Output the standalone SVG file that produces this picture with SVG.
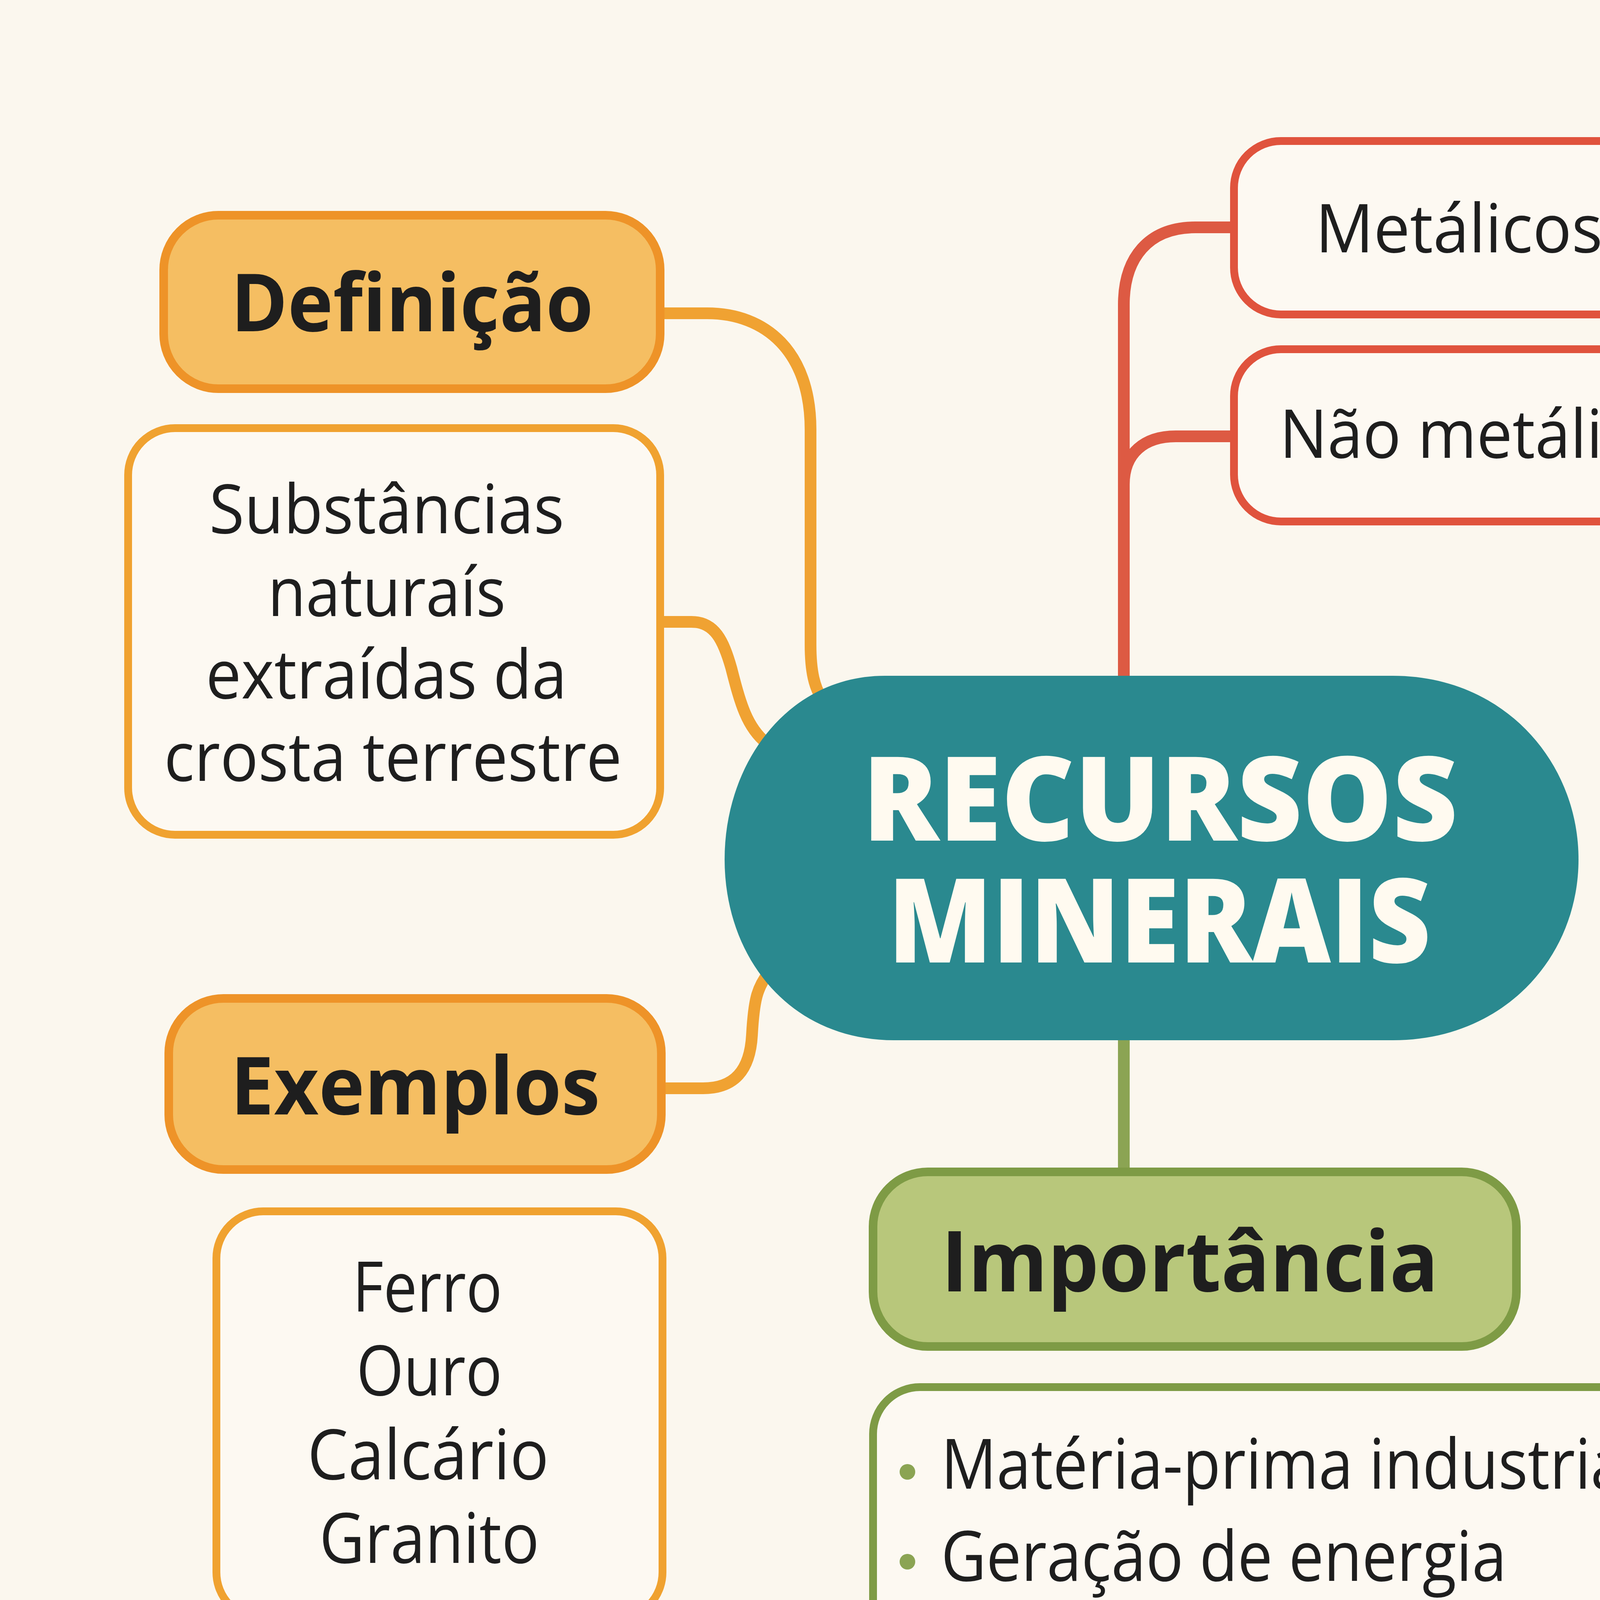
<svg xmlns="http://www.w3.org/2000/svg" width="4800" height="4800" viewBox="0 0 4800 4800">
<defs>
<style>
.bg{fill:#FBF7EE}
.hdrO{fill:#F5BE62;stroke:#EE9328;stroke-width:22}
.boxO{fill:#FDF9F2;stroke:#F0A230;stroke-width:20}
.boxR{fill:#FDF9F2;stroke:#E0533D;stroke-width:20}
.hdrG{fill:#B8C77B;stroke:#7E9B45;stroke-width:22}
.boxG{fill:#FDF9F2;stroke:#7E9B45;stroke-width:20}
.con{fill:none;stroke-width:30;stroke-linecap:round;stroke-linejoin:round}
.cO{stroke:#F0A232}
.cR{stroke:#DD5A43}
.cG{stroke:#8BA453}
.t{font-family:"Open Sans","Noto Sans","DejaVu Sans",sans-serif;fill:#1E1E1E;text-anchor:middle}
.b{font-weight:700}
.m{font-weight:500}
.w{fill:#FFFAF0;font-weight:800}
.dot{fill:#8BA453}
</style>
</defs>
<rect class="bg" x="0" y="0" width="4800" height="4800"/>
<g id="connectors">
<path class="con cO" d="M1690 802 H1810 C1960 802 2075 900 2075 1100 V1650 C2075 1720 2085 1760 2105 1790"/>
<path class="con cO" d="M1690 1592 H1770 C1830 1592 1852 1640 1872 1710 C1895 1800 1912 1862 1962 1902"/>
<path class="con cO" d="M1693 2786 H1800 C1880 2786 1920 2740 1925 2650 C1930 2560 1938 2528 1968 2490"/>
<path class="con cR" d="M2877 1735 V780 C2877 660 2940 582 3060 582 H3159"/>
<path class="con cR" d="M2877 1240 C2877 1160 2930 1117 3010 1117 H3159"/>
<path class="con cG" d="M2877 2660 V3000"/>
</g>
<g id="center">
<path fill="#2A898F" d="M2265 1730 H3566 C3850 1730 4041 1950 4041 2200 C4041 2450 3850 2663 3566 2663 H2290 C2020 2663 1855 2450 1855 2200 C1855 1950 2020 1730 2265 1730 Z"/>
<text class="t w" x="2970" y="2152" font-size="300" textLength="1524" lengthAdjust="spacingAndGlyphs">RECURSOS</text>
<text class="t w" x="2968" y="2464" font-size="300" textLength="1390" lengthAdjust="spacingAndGlyphs">MINERAIS</text>
</g>
<g id="definicao">
<rect class="hdrO" x="419" y="551" width="1271" height="444" rx="140"/>
<text class="t b" x="1055" y="848" font-size="205" textLength="928" lengthAdjust="spacingAndGlyphs">Definição</text>
</g>
<g id="definicao-texto">
<rect class="boxO" x="328" y="1096" width="1362" height="1041" rx="120"/>
<text class="t m" x="990" y="1365" font-size="175" textLength="909" lengthAdjust="spacingAndGlyphs">Substâncias</text>
<text class="t m" x="990" y="1577" font-size="175" textLength="609" lengthAdjust="spacingAndGlyphs">naturaís</text>
<text class="t m" x="989" y="1788" font-size="175" textLength="924" lengthAdjust="spacingAndGlyphs">extraídas da</text>
<text class="t m" x="1006" y="1999" font-size="175" textLength="1172" lengthAdjust="spacingAndGlyphs">crosta terrestre</text>
</g>
<g id="metalicos">
<rect class="boxR" x="3159" y="361" width="1142" height="444" rx="120"/>
<text class="t m" x="3735" y="646" font-size="172" textLength="735" lengthAdjust="spacingAndGlyphs">Metálicos</text>
</g>
<g id="nao-metalicos">
<rect class="boxR" x="3159" y="894" width="1326" height="441" rx="120"/>
<text class="t m" x="3816" y="1172" font-size="172" textLength="1081" lengthAdjust="spacingAndGlyphs">Não metálicos</text>
</g>
<g id="exemplos">
<rect class="hdrO" x="432" y="2556" width="1261" height="438" rx="140"/>
<text class="t b" x="1063" y="2853" font-size="205" textLength="946" lengthAdjust="spacingAndGlyphs">Exemplos</text>
</g>
<g id="exemplos-lista">
<rect class="boxO" x="554" y="3101" width="1142" height="1044" rx="120"/>
<text class="t m" x="1094" y="3358" font-size="178" textLength="383" lengthAdjust="spacingAndGlyphs">Ferro</text>
<text class="t m" x="1099" y="3572" font-size="178" textLength="373" lengthAdjust="spacingAndGlyphs">Ouro</text>
<text class="t m" x="1096" y="3787" font-size="178" textLength="618" lengthAdjust="spacingAndGlyphs">Calcário</text>
<text class="t m" x="1099" y="4001" font-size="178" textLength="563" lengthAdjust="spacingAndGlyphs">Granito</text>
</g>
<g id="importancia">
<rect class="hdrG" x="2235" y="3000" width="1647" height="447" rx="140"/>
<text class="t b" x="3046" y="3306" font-size="215" textLength="1273" lengthAdjust="spacingAndGlyphs">Importância</text>
</g>
<g id="importancia-lista">
<rect class="boxG" x="2235" y="3551" width="2051" height="866" rx="120"/>
<circle class="dot" cx="2323" cy="3768" r="20"/>
<circle class="dot" cx="2323" cy="3998" r="20"/>
<circle class="dot" cx="2323" cy="4237" r="20"/>
<text class="t m" x="2409" y="3811" font-size="178" text-anchor="start" style="text-anchor:start" textLength="1791" lengthAdjust="spacingAndGlyphs">Matéria-prima industrial</text>
<text class="t m" x="2409" y="4047" font-size="178" style="text-anchor:start" textLength="1448" lengthAdjust="spacingAndGlyphs">Geração de energia</text>
<text class="t m" x="2409" y="4276" font-size="178" style="text-anchor:start" textLength="1570" lengthAdjust="spacingAndGlyphs">Atividade económica</text>
</g>
</svg>
